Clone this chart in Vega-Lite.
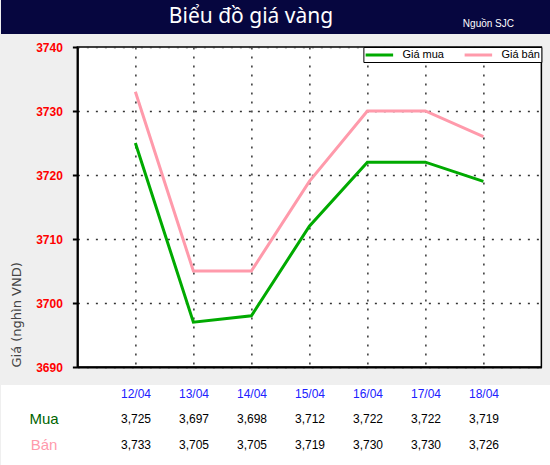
{
  "$schema": "https://vega.github.io/schema/vega-lite/v6.json",
  "background": "#efefef",
  "padding": 0,
  "spacing": 6,
  "center": true,
  "resolve": {"scale": {"color": "independent"}, "legend": {"color": "independent"}},
  "datasets": {
    "gia": [
      {"ngay": "12/04", "loai": "Mua", "gia": 3725},
      {"ngay": "13/04", "loai": "Mua", "gia": 3697},
      {"ngay": "14/04", "loai": "Mua", "gia": 3698},
      {"ngay": "15/04", "loai": "Mua", "gia": 3712},
      {"ngay": "16/04", "loai": "Mua", "gia": 3722},
      {"ngay": "17/04", "loai": "Mua", "gia": 3722},
      {"ngay": "18/04", "loai": "Mua", "gia": 3719},
      {"ngay": "12/04", "loai": "Bán", "gia": 3733},
      {"ngay": "13/04", "loai": "Bán", "gia": 3705},
      {"ngay": "14/04", "loai": "Bán", "gia": 3705},
      {"ngay": "15/04", "loai": "Bán", "gia": 3719},
      {"ngay": "16/04", "loai": "Bán", "gia": 3730},
      {"ngay": "17/04", "loai": "Bán", "gia": 3730},
      {"ngay": "18/04", "loai": "Bán", "gia": 3726}
    ],
    "tieude": [{"tieu_de": "Biểu đồ giá vàng", "nguon": "Nguồn SJC"}]
  },
  "vconcat": [
    {
      "width": 618,
      "height": 34,
      "data": {"name": "tieude"},
      "view": {"stroke": null},
      "layer": [
        {"mark": {"type": "rect", "color": "#06063f"}},
        {
          "mark": {"type": "text", "color": "white", "font": "Noto Sans", "fontSize": 21, "baseline": "middle", "dx": -59, "dy": 0},
          "encoding": {"text": {"field": "tieu_de"}}
        },
        {
          "mark": {"type": "text", "color": "white", "font": "Liberation Sans", "fontSize": 10, "align": "right", "baseline": "middle", "dx": 204, "dy": 7},
          "encoding": {"text": {"field": "nguon"}}
        }
      ]
    },
    {
      "width": 464,
      "height": 320,
      "data": {"name": "gia"},
      "view": {"fill": "white", "stroke": "black", "strokeWidth": 1.5},
      "mark": {"type": "line", "strokeWidth": 3},
      "encoding": {
        "x": {
          "field": "ngay",
          "type": "ordinal",
          "scale": {"type": "point", "padding": 1},
          "axis": {"labels": false, "ticks": false, "title": null, "domainColor": "black", "domainWidth": 2, "grid": true, "gridColor": "#333", "gridDash": [2, 7], "gridWidth": 1.5, "minExtent": 11, "maxExtent": 11}
        },
        "y": {
          "field": "gia",
          "type": "quantitative",
          "scale": {"domain": [3690, 3740], "zero": false, "nice": false},
          "axis": {
            "values": [3690, 3700, 3710, 3720, 3730, 3740],
            "format": "d",
            "title": ["", "Giá (nghìn VND)"],
            "titleAnchor": "start",
            "titleFont": "DejaVu Sans",
            "titleFontSize": 13,
            "titleLineHeight": 9,
            "titleFontWeight": "normal",
            "titleColor": "#444",
            "titlePadding": 12,
            "labelColor": "#ff0000",
            "labelFont": "Liberation Sans",
            "labelFontSize": 12,
            "labelFontWeight": "bold",
            "labelPadding": 10,
            "tickSize": 5,
            "tickWidth": 2,
            "tickColor": "black",
            "domainColor": "black",
            "domainWidth": 2,
            "grid": true,
            "gridColor": "#333",
            "gridDash": [2, 7],
            "gridWidth": 1.5
          }
        },
        "color": {
          "field": "loai",
          "type": "nominal",
          "scale": {"domain": ["Mua", "Bán"], "range": ["#00aa00", "#ff9aab"]},
          "legend": {
            "title": null,
            "orient": "top-right",
            "offset": 0,
            "direction": "horizontal",
            "strokeColor": "black",
            "fillColor": "white",
            "padding": 1,
            "symbolType": "M-2.5,0H2.5",
            "symbolSize": 121,
            "symbolOffset": 8,
            "symbolStrokeWidth": 3,
            "labelFont": "Liberation Sans",
            "labelFontSize": 11,
            "labelColor": "black",
            "labelOffset": 16,
            "columnPadding": 14,
            "labelExpr": "'Giá ' + lower(datum.label)"
          }
        }
      }
    },
    {
      "width": 618,
      "height": 82,
      "data": {"name": "gia"},
      "view": {"fill": "white", "stroke": null},
      "encoding": {
        "x": {
          "field": "ngay",
          "type": "ordinal",
          "scale": {"type": "band", "domain": ["Loại", "12/04", "13/04", "14/04", "15/04", "16/04", "17/04", "18/04", ""], "paddingInner": 0, "paddingOuter": 0.8276, "align": 0.5},
          "axis": null
        },
        "y": {
          "field": "loai",
          "type": "ordinal",
          "scale": {"type": "point", "domain": ["Ngày", "Mua", "Bán"], "padding": 0.608, "align": 0.29},
          "axis": null
        }
      },
      "layer": [
        {
          "mark": {"type": "text", "font": "Liberation Sans", "fontSize": 12, "color": "black"},
          "encoding": {"text": {"field": "gia", "type": "quantitative", "format": ",d"}}
        },
        {
          "transform": [{"filter": "datum.loai == 'Mua'"}],
          "mark": {"type": "text", "font": "Liberation Sans", "fontSize": 12, "color": "#2020ff"},
          "encoding": {"y": {"datum": "Ngày"}, "text": {"field": "ngay"}}
        },
        {
          "transform": [{"filter": "datum.ngay == '12/04'"}],
          "mark": {"type": "text", "font": "Liberation Sans", "fontSize": 15, "dx": -34},
          "encoding": {
            "x": {"datum": "Loại"},
            "text": {"field": "loai"},
            "color": {"condition": {"test": "datum.loai == 'Mua'", "value": "#006400"}, "value": "#ff9aab"}
          }
        }
      ]
    }
  ]
}
